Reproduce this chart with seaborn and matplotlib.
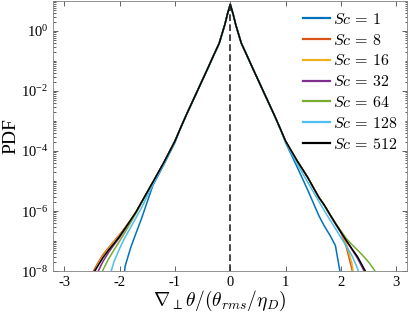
import numpy as np
import pandas as pd
import matplotlib
matplotlib.use("Agg")
import matplotlib.pyplot as plt
import matplotlib.ticker as mticker
from matplotlib.font_manager import FontProperties
import seaborn as sns

# ---- data (log10 of PDF) ----
x = [-2.6, -2.5, -2.4, -2.3, -2.2, -2.1, -2.0, -1.9, -1.8, -1.7, -1.6, -1.4, -1.2, -1.0,
     -0.9, -0.8, -0.7, -0.6, -0.5, -0.4, -0.3, -0.2, -0.1, -0.05, 0.0, 0.05, 0.1, 0.2, 0.3,
     0.4, 0.5, 0.6, 0.7, 0.8, 0.9,
     1.0, 1.2, 1.4, 1.6, 1.7, 1.8, 1.9, 2.0, 2.1, 2.2, 2.3, 2.4, 2.5, 2.6, 2.7]
nan = np.nan
# shared core, x from -0.9 to 0.9
center = [-3.24, -2.82, -2.42, -2.02, -1.62, -1.22, -0.81, -0.41, 0.20, 0.57, 0.89,
          0.57, 0.20, -0.41, -0.81, -1.22, -1.62, -2.02, -2.42, -2.82, -3.24]

log_sc1 = ([nan, nan, nan, nan, nan, nan, -9.5, -7.84, -7.22, -6.72, -6.23, -5.15, -4.45, -3.72]
           + center +
           [-3.72, -4.50, -5.30, -6.15, -6.50, -6.80, -7.15, -8.20, -10.0, nan, nan, nan, nan, nan, nan])
log_sc8 = ([-8.8, -8.10, -7.75, -7.45, -7.22, -7.00, -6.78, -6.55, -6.29, -6.02, -5.69, -5.04, -4.38, -3.67]
           + center +
           [-3.67, -4.30, -4.88, -5.54, -5.80, -6.11, -6.41, -6.70, -7.22, -7.95, -9.5, nan, nan, nan, nan])
log_sc16 = ([nan, -8.30, -7.80, -7.50, -7.25, -7.03, -6.80, -6.56, -6.30, -6.02, -5.69, -5.04, -4.38, -3.67]
            + center +
            [-3.67, -4.30, -4.88, -5.54, -5.80, -6.11, -6.41, -6.70, -7.10, -7.75, -9.0, nan, nan, nan, nan])
log_sc32 = ([nan, -8.6, -8.05, -7.68, -7.38, -7.12, -6.88, -6.60, -6.32, -6.04, -5.70, -5.05, -4.39, -3.67]
            + center +
            [-3.67, -4.30, -4.88, -5.54, -5.82, -6.13, -6.43, -6.72, -7.00, -7.28, -7.58, -7.93, -8.40, nan, nan])
log_sc64 = ([nan, nan, -8.5, -7.96, -7.60, -7.29, -7.00, -6.70, -6.38, -6.06, -5.72, -5.05, -4.39, -3.67]
            + center +
            [-3.67, -4.30, -4.88, -5.54, -5.80, -6.11, -6.40, -6.66, -6.92, -7.12, -7.30, -7.49, -7.70, -7.95, -8.30])
log_sc128 = ([nan, nan, nan, -9.5, -8.30, -7.68, -7.25, -6.87, -6.54, -6.21, -5.88, -5.12, -4.42, -3.70]
             + center +
             [-3.70, -4.40, -5.04, -5.67, -5.99, -6.29, -6.58, -6.88, -7.18, -7.49, -7.91, -8.60, nan, nan, nan])
log_sc512 = ([nan, -8.15, -7.85, -7.55, -7.30, -7.08, -6.84, -6.57, -6.30, -6.02, -5.69, -5.04, -4.38, -3.67]
             + center +
             [-3.67, -4.30, -4.88, -5.54, -5.80, -6.11, -6.41, -6.70, -6.99, -7.26, -7.52, -7.86, -8.20, nan, nan])

labels = [r"$Sc\,=\,1$", r"$Sc\,=\,8$", r"$Sc\,=\,16$", r"$Sc\,=\,32$",
          r"$Sc\,=\,64$", r"$Sc\,=\,128$", r"$Sc\,=\,512$"]
series = [log_sc1, log_sc8, log_sc16, log_sc32, log_sc64, log_sc128, log_sc512]
colors = ["#0072BD", "#D95319", "#EDB120", "#7E2F8E", "#77AC30", "#4DBEEE", "#000000"]
peak = 10 ** 0.89
xticks = [-3, -2, -1, 0, 1, 2, 3]

# ---- style ----
plt.rcParams["font.family"] = ["Liberation Serif", "DejaVu Serif"]
plt.rcParams["mathtext.fontset"] = "stix"
plt.rcParams["axes.unicode_minus"] = False

rows = []
for lab, s in zip(labels, series):
    for xi, yi in zip(x, s):
        if not np.isnan(yi):
            rows.append({"x": xi, "pdf": 10.0 ** yi, "Sc": lab})
df = pd.DataFrame(rows)

fig = plt.figure(figsize=(4.09, 3.16), dpi=100)
ax = fig.add_axes([0.130, 0.142, 0.866, 0.855])

sns.lineplot(data=df, x="x", y="pdf", hue="Sc", hue_order=labels, palette=colors,
             estimator=None, sort=True, linewidth=1.1, ax=ax, legend=False)

ax.plot([0, 0], [1e-8, peak], color="#262626", lw=1.2, ls=(0, (4, 2)), zorder=5)

ax.set_yscale("log")
ax.set_xlim(-3.2, 3.2)
ax.set_ylim(1e-8, 1e1)
ax.set_xticks(xticks)
ax.set_xticklabels([str(t) for t in xticks])
ax.yaxis.set_major_locator(mticker.FixedLocator([1e-8, 1e-6, 1e-4, 1e-2, 1e0]))
ax.yaxis.set_major_formatter(mticker.LogFormatterSciNotation())
ax.yaxis.set_minor_locator(mticker.LogLocator(base=10, subs=np.arange(1, 10), numticks=100))
ax.yaxis.set_minor_formatter(mticker.NullFormatter())

ax.tick_params(axis="both", which="both", direction="in", top=True, right=True,
               labelsize=10.5, color="#262626", width=0.5)
ax.tick_params(axis="both", which="major", length=3.5)
ax.tick_params(axis="y", which="minor", length=1.8)
ax.tick_params(axis="x", which="minor", bottom=False, top=False)
for sp in ax.spines.values():
    sp.set_color("#808080")
    sp.set_linewidth(0.6)

ax.set_xlabel(r"$\nabla_{\perp}\theta/(\theta_{rms}/\eta_D)$", fontsize=14, labelpad=0,
              math_fontfamily="cm")
ax.xaxis.set_label_coords(0.47, -0.065)
ax.set_ylabel("PDF", fontsize=14, labelpad=1)

handles = [plt.Line2D([0], [0], color=c, lw=1.6) for c in colors]
leg_font = FontProperties(family="Liberation Serif", size=11.5, math_fontfamily="cm")
ax.legend(handles, labels, loc="upper right", frameon=False, prop=leg_font,
          handlelength=1.7, handletextpad=0.2, labelspacing=0.3,
          borderaxespad=0.2, bbox_to_anchor=(1.0, 0.995))

fig.savefig("out.png", dpi=100)
